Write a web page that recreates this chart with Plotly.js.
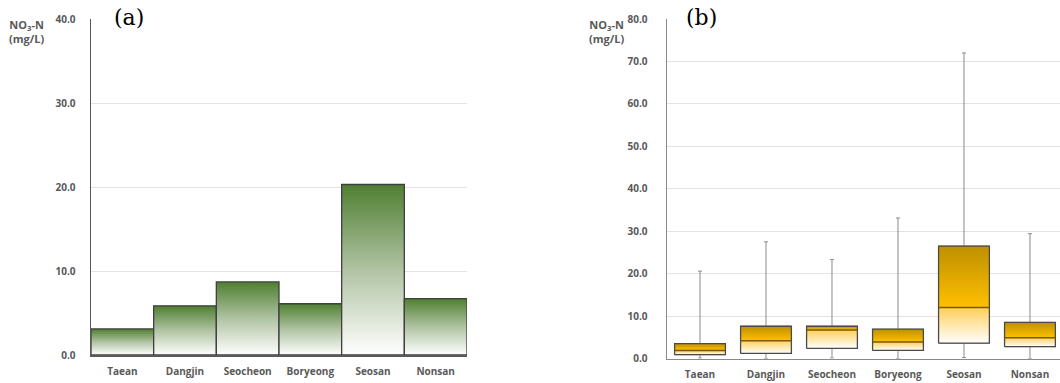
<!DOCTYPE html>
<html>
<head>
<meta charset="utf-8">
<script src="https://cdn.plot.ly/plotly-3.0.1.min.js"></script>
<style>
html,body{margin:0;padding:0;background:#fff;}
#chart{width:1060px;height:383px;}
</style>
</head>
<body>
<div id="chart"></div>
<script>
// ---- Data ----
const categories = ['Taean', 'Dangjin', 'Seocheon', 'Boryeong', 'Seosan', 'Nonsan'];
// (a) mean NO3-N (mg/L)
const meanValues = [3.1, 5.85, 8.7, 6.1, 20.3, 6.7];
// (b) box statistics NO3-N (mg/L)
const minValues = [0.1, 0.0, 0.1, 0.0, 0.2, 0.0];
const q1Values = [0.9, 1.2, 2.4, 1.9, 3.6, 2.8];
const medianValues = [1.9, 4.2, 6.7, 3.9, 12.0, 4.9];
const q3Values = [3.5, 7.6, 7.6, 6.9, 26.5, 8.5];
const maxValues = [20.6, 27.5, 23.3, 33.1, 72.0, 29.4];
const yTicksA = [0, 10, 20, 30, 40];
const yTicksB = [0, 10, 20, 30, 40, 50, 60, 70, 80];

const positions = categories.map((c, i) => i);
const boxHalf = 0.385;
const tickFont = {family: 'Open Sans', size: 10, color: '#595959', weight: 'bold'};

const traces = [];

// (a) bars with vertical gradient
meanValues.forEach((v, i) => {
  traces.push({
    type: 'scatter', mode: 'lines', xaxis: 'x', yaxis: 'y',
    x: [i - 0.5, i - 0.5, i + 0.5, i + 0.5, i - 0.5],
    y: [0, v, v, 0, 0],
    fill: 'toself',
    fillgradient: {type: 'vertical', colorscale: [[0, '#ffffff'], [0.5, '#b0c3a3'], [1, '#4f7f31']]},
    line: {color: '#3f3f3f', width: 1.3},
    hoverinfo: 'skip', showlegend: false
  });
});

// (b) whiskers via box trace
traces.push({
  type: 'box', xaxis: 'x2', yaxis: 'y2',
  x: positions,
  q1: q1Values, median: medianValues, q3: q3Values,
  lowerfence: minValues, upperfence: maxValues,
  width: 2 * boxHalf,
  whiskerwidth: 0.08,
  boxpoints: false,
  fillcolor: 'rgba(0,0,0,0)',
  line: {color: '#8a8a8a', width: 1},
  showlegend: false, hoverinfo: 'skip'
});

// (b) gradient box bodies
categories.forEach((c, i) => {
  const xl = i - boxHalf, xr = i + boxHalf;
  // lower part q1 -> median
  traces.push({
    type: 'scatter', mode: 'lines', xaxis: 'x2', yaxis: 'y2',
    x: [xl, xl, xr, xr, xl],
    y: [q1Values[i], medianValues[i], medianValues[i], q1Values[i], q1Values[i]],
    fill: 'toself',
    fillgradient: {type: 'vertical', colorscale: [[0, '#ffffff'], [1, '#ffcf5a']]},
    line: {color: 'rgba(0,0,0,0)', width: 0},
    hoverinfo: 'skip', showlegend: false
  });
  // upper part median -> q3
  traces.push({
    type: 'scatter', mode: 'lines', xaxis: 'x2', yaxis: 'y2',
    x: [xl, xl, xr, xr, xl],
    y: [medianValues[i], q3Values[i], q3Values[i], medianValues[i], medianValues[i]],
    fill: 'toself',
    fillgradient: {type: 'vertical', colorscale: [[0, '#ffc000'], [1, '#bf9000']]},
    line: {color: 'rgba(0,0,0,0)', width: 0},
    hoverinfo: 'skip', showlegend: false
  });
  // outline
  traces.push({
    type: 'scatter', mode: 'lines', xaxis: 'x2', yaxis: 'y2',
    x: [xl, xl, xr, xr, xl],
    y: [q1Values[i], q3Values[i], q3Values[i], q1Values[i], q1Values[i]],
    line: {color: '#4a4a4a', width: 1.3},
    hoverinfo: 'skip', showlegend: false
  });
  // median line
  traces.push({
    type: 'scatter', mode: 'lines', xaxis: 'x2', yaxis: 'y2',
    x: [xl, xr],
    y: [medianValues[i], medianValues[i]],
    line: {color: '#7a5a00', width: 1.5},
    hoverinfo: 'skip', showlegend: false
  });
});

const H = 383, W = 1060;
const titleFont = {family: 'Open Sans', size: 11, color: '#595959', weight: 'bold'};
const panelFont = {family: 'DejaVu Serif', size: 22, color: '#000000'};
const layout = {
  width: W, height: H,
  margin: {l: 0, r: 0, t: 0, b: 0},
  paper_bgcolor: '#ffffff', plot_bgcolor: 'rgba(0,0,0,0)',
  showlegend: false,
  xaxis: {
    domain: [91 / W, 467 / W], range: [-0.5, 5.5],
    tickvals: positions, ticktext: categories,
    showgrid: false, zeroline: false,
    showline: true, linecolor: '#595959', linewidth: 1.5,
    ticks: '', ticklabelstandoff: 6, tickfont: tickFont, fixedrange: true
  },
  yaxis: {
    domain: [(H - 355) / H, (H - 19) / H], range: [0, 40],
    tickvals: yTicksA, tickformat: '.1f',
    showgrid: true, gridcolor: '#e3e3e3', gridwidth: 1,
    zeroline: false, showline: true, linecolor: '#595959', linewidth: 1.5,
    ticks: '', ticklabelstandoff: 12, tickfont: tickFont, fixedrange: true
  },
  xaxis2: {
    domain: [667 / W, 1], range: [-0.5, 5.455],
    tickvals: positions, ticktext: categories,
    showgrid: false, zeroline: false,
    showline: true, linecolor: '#8a8a8a', linewidth: 1.5,
    ticks: '', ticklabelstandoff: 6, tickfont: tickFont, fixedrange: true, anchor: 'y2'
  },
  yaxis2: {
    domain: [(H - 358.5) / H, (H - 19) / H], range: [0, 80],
    tickvals: yTicksB, tickformat: '.1f',
    showgrid: true, gridcolor: '#e3e3e3', gridwidth: 1,
    zeroline: false, showline: true, linecolor: '#8a8a8a', linewidth: 1.5,
    ticks: '', ticklabelstandoff: 16, tickfont: tickFont, fixedrange: true, anchor: 'x2'
  },
  annotations: [
    {text: 'NO<sub>3</sub>-N<br>(mg/L)', xref: 'paper', yref: 'paper', x: 27 / W, y: (H - 32) / H,
     xanchor: 'center', yanchor: 'middle', showarrow: false, font: titleFont, align: 'center'},
    {text: 'NO<sub>3</sub>-N<br>(mg/L)', xref: 'paper', yref: 'paper', x: 607 / W, y: (H - 32) / H,
     xanchor: 'center', yanchor: 'middle', showarrow: false, font: titleFont, align: 'center'},
    {text: '(a)', xref: 'paper', yref: 'paper', x: 129 / W, y: (H - 17) / H,
     xanchor: 'center', yanchor: 'middle', showarrow: false, bgcolor: 'rgba(0,0,0,0)', font: panelFont},
    {text: '(b)', xref: 'paper', yref: 'paper', x: 701 / W, y: (H - 17) / H,
     xanchor: 'center', yanchor: 'middle', showarrow: false, bgcolor: 'rgba(0,0,0,0)', font: panelFont}
  ]
};

Plotly.newPlot('chart', traces, layout, {displayModeBar: false, staticPlot: true});
</script>
</body>
</html>
